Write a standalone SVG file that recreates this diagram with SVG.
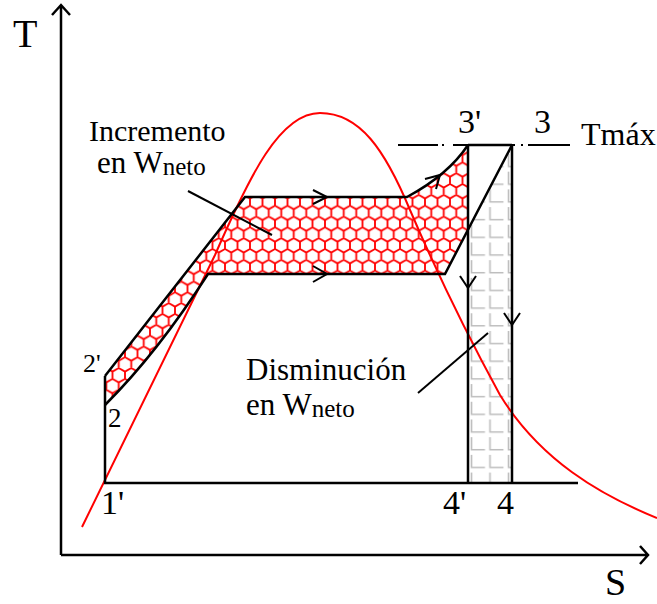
<svg xmlns="http://www.w3.org/2000/svg" width="657" height="604" viewBox="0 0 657 604">
<defs>
<pattern id="hex" patternUnits="userSpaceOnUse" x="0" y="0" width="12.5" height="21.65">
<path d="M6.25,0 L12.5,3.61 L12.5,10.83 L6.25,14.43 L0,10.83 L0,3.61 Z M6.25,14.43 L6.25,21.65" fill="none" stroke="#ff0000" stroke-width="1.8"/>
</pattern>
<pattern id="brick" patternUnits="userSpaceOnUse" x="470" y="152" width="18.5" height="17.7">
<path d="M1.5,2 V14.5 H15" fill="none" stroke="#bdbdbd" stroke-width="1.6"/>
</pattern>
<style>
.ln{fill:none;stroke:#000;stroke-width:2.5;stroke-linejoin:miter}
.thin{fill:none;stroke:#000;stroke-width:2}
.red{fill:none;stroke:#ff0000;stroke-width:2}
.t{font-family:"Liberation Serif","Times New Roman",serif;fill:#000}
</style>
</defs>

<g id="areas">
<path id="incremento-area" d="M105,376 L245,197 L407,197 Q448,175 468,145 L468,230 L445,274 L208,274 Q158,352 105,405 Z" fill="url(#hex)"/>
<path id="disminucion-area" d="M468,230 L512,145 L512,483 L468,483 Z" fill="url(#brick)"/>
</g>

<g id="dome">
<path class="red" d="M82,527 L215,255 C250,175 280,113 320,113 C360,113 385,150 410,210 C440,280 470,340 500,395 C540,460 600,495 657,518"/>
</g>

<g id="axes">
<path class="ln" d="M61,555 V5 M52,15 L61,5 L70,15"/>
<path class="ln" d="M61,555 H648 M640,546 L648,555 L640,564"/>
</g>

<g id="connectors">
<path class="ln" d="M105,376 L245,197 L407,197 Q448,175 468,145"/>
<path class="ln" d="M105,405 Q158,352 208,274 L445,274 L512,145"/>
<path class="ln" d="M105,376 V483 H578"/>
<path class="ln" d="M468,145 H512"/>
<path class="ln" d="M468,145 V483"/>
<path class="ln" d="M512,145 V483"/>
<path class="thin" d="M398,145 H438 M442,145 H444 M453,145 H468 M512,145 H515 M521,145 H523 M528,145 H570"/>
<path class="thin" d="M313,190 L327,197 L313,204"/>
<path class="thin" d="M313,266 L327,274 L313,282"/>
<path class="thin" d="M425,179 L440,175 L436,189"/>
<path class="thin" d="M460,276 L468,288 L476,276"/>
<path class="thin" d="M504,313 L512,325 L520,313"/>
<path class="thin" d="M188,191 L272,235"/>
<path class="thin" d="M418,393 L488,333"/>
</g>

<g id="labels">
<text class="t" x="13" y="47" font-size="40">T</text>
<text class="t" x="605" y="595" font-size="38">S</text>
<text class="t" x="458" y="133" font-size="34">3'</text>
<text class="t" x="534" y="133" font-size="34">3</text>
<text class="t" x="581" y="145" font-size="32">Tmáx</text>
<text class="t" x="83" y="372" font-size="26">2'</text>
<text class="t" x="108" y="427" font-size="27">2</text>
<text class="t" x="101" y="514" font-size="34">1'</text>
<text class="t" x="443" y="514" font-size="34">4'</text>
<text class="t" x="497" y="514" font-size="34">4</text>
<text class="t" x="89" y="141" font-size="30">Incremento</text>
<text class="t" x="97" y="173" font-size="31">en W<tspan font-size="25" dy="2">neto</tspan></text>
<text class="t" x="246" y="380" font-size="31">Disminución</text>
<text class="t" x="246" y="415" font-size="31">en W<tspan font-size="25" dy="2">neto</tspan></text>
</g>
</svg>
